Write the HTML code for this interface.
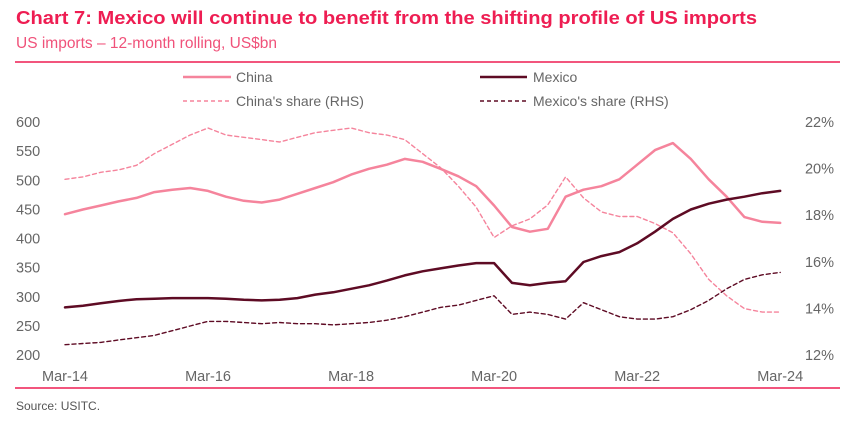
<!DOCTYPE html>
<html><head><meta charset="utf-8"><style>
body{margin:0;background:#fff;font-family:"Liberation Sans",sans-serif}
#w{position:relative;width:865px;height:422px;overflow:hidden}
</style></head><body><div id="w">
<svg id="s" width="865" height="422" xmlns="http://www.w3.org/2000/svg">
<text x="16" y="24" font-size="18.5" font-weight="bold" fill="#ee1d52" textLength="741" lengthAdjust="spacingAndGlyphs">Chart 7: Mexico will continue to benefit from the shifting profile of US imports</text>
<text x="16" y="48" font-size="15.5" fill="#f0527a">US imports – 12-month rolling, US$bn</text>
<line x1="15" y1="62" x2="840" y2="62" stroke="#ee1d52" stroke-width="1.5"/>
<line x1="15" y1="388" x2="840" y2="388" stroke="#ee1d52" stroke-width="1.5"/>
<text x="16" y="410" font-size="12" fill="#555">Source: USITC.</text>
<g>
<g><line x1="183" y1="77" x2="231" y2="77" stroke="#f5849c" stroke-width="2.5"/><text x="236" y="82" font-size="14" fill="#666">China</text></g>
<g><line x1="480" y1="77" x2="527" y2="77" stroke="#5e0b24" stroke-width="2.5"/><text x="533" y="82" font-size="14" fill="#666">Mexico</text></g>
<g><line x1="183" y1="101" x2="231" y2="101" stroke="#f5849c" stroke-width="1.4" stroke-dasharray="4,3"/><text x="236" y="106" font-size="14" fill="#666">China's share (RHS)</text></g>
<g><line x1="480" y1="101" x2="527" y2="101" stroke="#5e0b24" stroke-width="1.4" stroke-dasharray="4,3"/><text x="533" y="106" font-size="14" fill="#666">Mexico's share (RHS)</text></g>
</g>
<g id="axes"></g><g id="series"></g>
</svg></div>
<script>
const xLabels=["Mar-14","Mar-16","Mar-18","Mar-20","Mar-22","Mar-24"];
const leftTicks=[200,250,300,350,400,450,500,550,600];
const rightTicks=[12,14,16,18,20,22];
const china=[440,448,455,462,468,478,482,485,480,470,463,460,465,475,485,495,508,518,525,535,530,518,505,488,455,418,410,415,470,482,488,500,525,550,562,535,500,470,435,427,425];
const mexico=[280,283,287,291,294,295,296,296,296,295,293,292,293,296,302,306,312,318,326,335,342,347,352,356,356,322,318,322,325,358,368,375,390,410,432,448,458,465,470,476,480];
const chinaShare=[19.5,19.6,19.8,19.9,20.1,20.6,21.0,21.4,21.7,21.4,21.3,21.2,21.1,21.3,21.5,21.6,21.7,21.5,21.4,21.2,20.6,20.0,19.2,18.3,17.0,17.5,17.8,18.4,19.6,18.7,18.1,17.9,17.9,17.6,17.2,16.3,15.2,14.5,13.95,13.8,13.8];
const mexicoShare=[12.4,12.45,12.5,12.6,12.7,12.8,13.0,13.2,13.4,13.4,13.35,13.3,13.35,13.3,13.3,13.25,13.3,13.35,13.45,13.6,13.8,14.0,14.1,14.3,14.5,13.7,13.8,13.7,13.5,14.2,13.9,13.6,13.5,13.5,13.6,13.9,14.3,14.8,15.2,15.4,15.5];
const NS="http://www.w3.org/2000/svg";
const X=q=>65+q*3*5.96;
const YL=v=>354-(v-200)*(233/400);
const YR=v=>354-(v-12)*(233/10);
const ax=document.getElementById('axes'),se=document.getElementById('series');
function mk(tag,at,par,txt){const e=document.createElementNS(NS,tag);for(const k in at)e.setAttribute(k,at[k]);if(txt!==undefined)e.textContent=txt;par.appendChild(e);return e;}
leftTicks.forEach(v=>{const t=mk('text',{x:16,y:YL(v)+6,'font-size':14.5,fill:'#666'},ax,String(v));

});
rightTicks.forEach(v=>{const t=mk('text',{x:834,y:YR(v)+6,'font-size':14.5,fill:'#666','text-anchor':'end'},ax,v+'%');

});
xLabels.forEach((l,i)=>{const t=mk('text',{x:X(i*8),y:381,'font-size':14.5,fill:'#666','text-anchor':'middle'},ax,l);

});
function line(arr,yf,col,w,dash,name){const d=arr.map((v,i)=>(i?'L':'M')+X(i).toFixed(1)+','+yf(v).toFixed(1)).join('');
const p=mk('path',{d:d,fill:'none',stroke:col,'stroke-width':w,'stroke-linejoin':'round','stroke-linecap':'round'},se);
if(dash)p.setAttribute('stroke-dasharray',dash);

}
line(chinaShare,YR,'#f5849c',1.4,'4,3','china-share-line');
line(mexicoShare,YR,'#5e0b24',1.4,'4,3','mexico-share-line');
line(china,YL,'#f5849c',2.5,null,'china-line');
line(mexico,YL,'#5e0b24',2.5,null,'mexico-line');
</script></body></html>
